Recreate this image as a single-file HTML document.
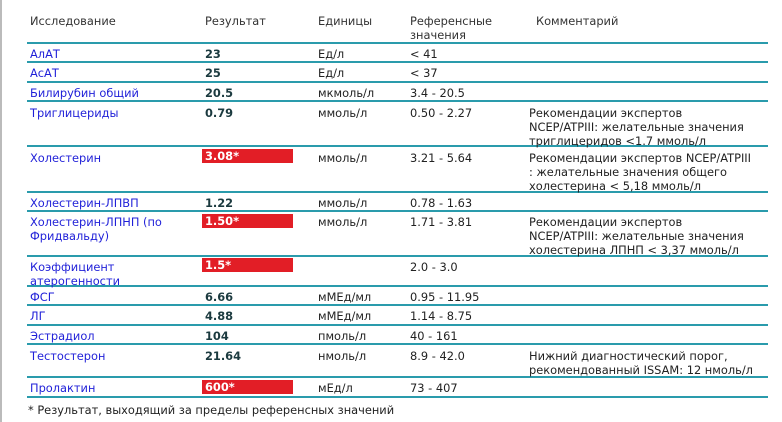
<!DOCTYPE html>
<html><head><meta charset="utf-8"><style>
body{margin:0;width:782px;height:422px;background:#fff;position:relative;overflow:hidden;font-family:"DejaVu Sans","Liberation Sans",sans-serif;font-size:11.4px;color:#222}
.vl{position:absolute;left:0;top:0;width:2px;height:422px;background:#bbb}
.h{position:absolute;left:27px;width:741px;height:2px;background:#2a9bac}
.t{position:absolute;line-height:14px;white-space:nowrap;margin-top:2px}
.n{color:#1f1fd8}
.r{font-weight:bold;color:#1b3a3f}
.bad{position:absolute;left:202px;width:91px;height:14px;background:#e21e26;color:#fff;font-weight:bold;line-height:14px;padding-left:3px;box-sizing:border-box}
.hd{color:#333}
</style></head><body>
<div class="vl"></div>
<div class="t hd" style="left:30px;top:12px">Исследование</div>
<div class="t hd" style="left:205px;top:12px">Результат</div>
<div class="t hd" style="left:318px;top:12px">Единицы</div>
<div class="t hd" style="left:410px;top:12px">Референсные<br>значения</div>
<div class="t hd" style="left:536px;top:12px">Комментарий</div>

<div class="h" style="top:42px"></div>
<div class="h" style="top:61px"></div>
<div class="h" style="top:81px"></div>
<div class="h" style="top:100px"></div>
<div class="h" style="top:145px"></div>
<div class="h" style="top:191px"></div>
<div class="h" style="top:210px"></div>
<div class="h" style="top:255px"></div>
<div class="h" style="top:285px"></div>
<div class="h" style="top:304px"></div>
<div class="h" style="top:324px"></div>
<div class="h" style="top:343px"></div>
<div class="h" style="top:376px"></div>
<div class="h" style="top:396px"></div>

<div class="t n" style="left:30px;top:45px">АлАТ</div><div class="t r" style="left:205px;top:45px">23</div><div class="t" style="left:318px;top:45px">Ед/л</div><div class="t" style="left:410px;top:45px">&lt; 41</div>
<div class="t n" style="left:30px;top:64px">АсАТ</div><div class="t r" style="left:205px;top:64px">25</div><div class="t" style="left:318px;top:64px">Ед/л</div><div class="t" style="left:410px;top:64px">&lt; 37</div>
<div class="t n" style="left:30px;top:84px">Билирубин общий</div><div class="t r" style="left:205px;top:84px">20.5</div><div class="t" style="left:318px;top:84px">мкмоль/л</div><div class="t" style="left:410px;top:84px">3.4 - 20.5</div>
<div class="t n" style="left:30px;top:104px">Триглицериды</div><div class="t r" style="left:205px;top:104px">0.79</div><div class="t" style="left:318px;top:104px">ммоль/л</div><div class="t" style="left:410px;top:104px">0.50 - 2.27</div>
<div class="t" style="left:529px;top:104px">Рекомендации экспертов<br>NCEP/ATPIII: желательные значения<br>триглицеридов &lt;1.7 ммоль/л</div>
<div class="t n" style="left:30px;top:149px">Холестерин</div><div class="bad" style="top:149px">3.08*</div><div class="t" style="left:318px;top:149px">ммоль/л</div><div class="t" style="left:410px;top:149px">3.21 - 5.64</div>
<div class="t" style="left:529px;top:149px">Рекомендации экспертов NCEP/ATPIII<br>: желательные значения общего<br>холестерина &lt; 5,18 ммоль/л</div>
<div class="t n" style="left:30px;top:194px">Холестерин-ЛПВП</div><div class="t r" style="left:205px;top:194px">1.22</div><div class="t" style="left:318px;top:194px">ммоль/л</div><div class="t" style="left:410px;top:194px">0.78 - 1.63</div>
<div class="t n" style="left:30px;top:213px">Холестерин-ЛПНП (по<br>Фридвальду)</div><div class="bad" style="top:214px">1.50*</div><div class="t" style="left:318px;top:213px">ммоль/л</div><div class="t" style="left:410px;top:213px">1.71 - 3.81</div>
<div class="t" style="left:529px;top:213px">Рекомендации экспертов<br>NCEP/ATPIII: желательные значения<br>холестерина ЛПНП &lt; 3,37 ммоль/л</div>
<div class="t n" style="left:30px;top:258px">Коэффициент<br>атерогенности</div><div class="bad" style="top:258px">1.5*</div><div class="t" style="left:410px;top:258px">2.0 - 3.0</div>
<div class="t n" style="left:30px;top:288px">ФСГ</div><div class="t r" style="left:205px;top:288px">6.66</div><div class="t" style="left:318px;top:288px">мМЕд/мл</div><div class="t" style="left:410px;top:288px">0.95 - 11.95</div>
<div class="t n" style="left:30px;top:307px">ЛГ</div><div class="t r" style="left:205px;top:307px">4.88</div><div class="t" style="left:318px;top:307px">мМЕд/мл</div><div class="t" style="left:410px;top:307px">1.14 - 8.75</div>
<div class="t n" style="left:30px;top:327px">Эстрадиол</div><div class="t r" style="left:205px;top:327px">104</div><div class="t" style="left:318px;top:327px">пмоль/л</div><div class="t" style="left:410px;top:327px">40 - 161</div>
<div class="t n" style="left:30px;top:347px">Тестостерон</div><div class="t r" style="left:205px;top:347px">21.64</div><div class="t" style="left:318px;top:347px">нмоль/л</div><div class="t" style="left:410px;top:347px">8.9 - 42.0</div>
<div class="t" style="left:529px;top:347px">Нижний диагностический порог,<br>рекомендованный ISSAM: 12 нмоль/л</div>
<div class="t n" style="left:30px;top:379px">Пролактин</div><div class="bad" style="top:380px">600*</div><div class="t" style="left:318px;top:379px">мЕд/л</div><div class="t" style="left:410px;top:379px">73 - 407</div>
<div class="t" style="left:28px;top:401px">* Результат, выходящий за пределы референсных значений</div>
</body></html>
